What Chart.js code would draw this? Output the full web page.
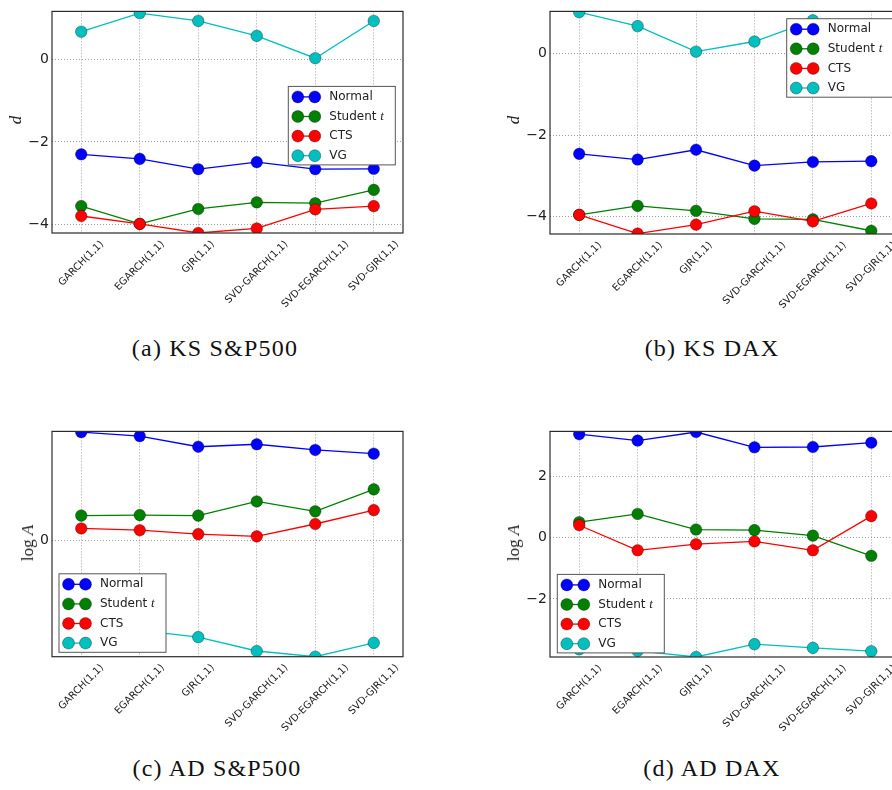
<!DOCTYPE html>
<html>
<head>
<meta charset="utf-8">
<script src="https://cdn.jsdelivr.net/npm/chart.js@4.4.1/dist/chart.umd.min.js"></script>
<style>
    html, body { margin: 0; padding: 0; background: #fff; }
    #page { position: relative; width: 892px; height: 790px; overflow: hidden; }
    #page canvas { position: absolute; }
    .caption {
        position: absolute; width: 300px; text-align: center;
        font-family: 'Liberation Serif', serif; font-size: 24px; line-height: 24px;
        letter-spacing: 1.2px; color: #111; white-space: nowrap;
    }
    .ylab {
        position: absolute; font-family: 'Liberation Serif', serif; font-size: 17px;
        color: #222; white-space: nowrap; transform: translate(-50%, -50%) rotate(-90deg);
    }
</style>
</head>
<body>
<div id="page">
    <canvas id="ksSp" width="420" height="320" style="left:0;top:0"></canvas>
    <canvas id="ksDax" width="430" height="320" style="left:490px;top:0"></canvas>
    <canvas id="adSp" width="420" height="320" style="left:0;top:420px"></canvas>
    <canvas id="adDax" width="430" height="320" style="left:490px;top:420px"></canvas>

    <div class="ylab" style="left:16px;top:120px"><i>d</i></div>
    <div class="ylab" style="left:514px;top:120px"><i>d</i></div>
    <div class="ylab" style="left:28px;top:543px">log <i>A</i></div>
    <div class="ylab" style="left:514px;top:543px">log <i>A</i></div>

    <div class="caption" style="left:65px;top:336px">(a) KS S&amp;P500</div>
    <div class="caption" style="left:562px;top:336px">(b) KS DAX</div>
    <div class="caption" style="left:67px;top:756px">(c) AD S&amp;P500</div>
    <div class="caption" style="left:562px;top:756px">(d) AD DAX</div>
</div>

<script>
const models = ['GARCH(1,1)', 'EGARCH(1,1)', 'GJR(1,1)', 'SVD-GARCH(1,1)', 'SVD-EGARCH(1,1)', 'SVD-GJR(1,1)'];
const seriesNames = ['Normal', 'Student t', 'CTS', 'VG'];

// (a) KS S&P500
const ksSpNormal = [-2.30, -2.41, -2.66, -2.49, -2.66, -2.65];
const ksSpStudent = [-3.55, -3.98, -3.62, -3.46, -3.48, -3.16];
const ksSpCts = [-3.79, -3.98, -4.20, -4.09, -3.63, -3.55];
const ksSpVg = [0.66, 1.11, 0.92, 0.56, 0.02, 0.92];
const ksSpRange = [-4.2, 1.15];
const ksSpTicks = [-4, -2, 0];

// (b) KS DAX
const ksDaxNormal = [-2.46, -2.60, -2.36, -2.75, -2.66, -2.64];
const ksDaxStudent = [-3.96, -3.74, -3.86, -4.06, -4.07, -4.35];
const ksDaxCts = [-3.96, -4.42, -4.20, -3.87, -4.12, -3.68];
const ksDaxVg = [1.02, 0.68, 0.05, 0.30, 0.82, 0.60];
const ksDaxRange = [-4.43, 1.04];
const ksDaxTicks = [-4, -2, 0];

// (c) AD S&P500
const adSpNormal = [4.37, 4.21, 3.78, 3.88, 3.65, 3.50];
const adSpStudent = [1.00, 1.02, 1.00, 1.57, 1.17, 2.06];
const adSpCts = [0.48, 0.41, 0.25, 0.16, 0.66, 1.22];
const adSpVg = [-3.40, -3.64, -3.91, -4.47, -4.70, -4.14];
const adSpRange = [-4.7, 4.4];
const adSpTicks = [0];

// (d) AD DAX
const adDaxNormal = [3.39, 3.18, 3.46, 2.96, 2.97, 3.11];
const adDaxStudent = [0.51, 0.78, 0.27, 0.25, 0.07, -0.59];
const adDaxCts = [0.41, -0.41, -0.21, -0.12, -0.41, 0.71];
const adDaxVg = [-3.65, -3.70, -3.90, -3.48, -3.60, -3.71];
const adDaxRange = [-3.90, 3.48];
const adDaxTicks = [-2, 0, 2];

const seriesColors = ['#0000ff', '#008000', '#ff0000', '#00bfbf'];
const gridColor = '#a0a0a0';

// axes frame on all four sides (matplotlib style box)
const framePlugin = {
    id: 'frame',
    afterDatasetsDraw(chart) {
        const { ctx, chartArea: a } = chart;
        ctx.save();
        ctx.strokeStyle = '#2b2b2b';
        ctx.lineWidth = 1.2;
        ctx.strokeRect(a.left, a.top, a.right - a.left, a.bottom - a.top);
        ctx.restore();
    }
};

// x labels rotated 45deg and centred on the tick, like matplotlib
const rotatedLabels = {
    id: 'rotatedLabels',
    afterDraw(chart) {
        const { ctx, chartArea } = chart;
        const xs = chart.scales.x;
        ctx.save();
        ctx.font = '10px "DejaVu Sans"';
        ctx.fillStyle = '#222';
        ctx.textAlign = 'center';
        ctx.textBaseline = 'middle';
        chart.data.labels.forEach((label, i) => {
            const w = ctx.measureText(label).width;
            const boxH = (w + 10) * Math.SQRT1_2;
            const cx = xs.getPixelForTick(i);
            const cy = chartArea.bottom + 6 + boxH / 2;
            ctx.save();
            ctx.translate(cx, cy);
            ctx.rotate(-Math.PI / 4);
            ctx.fillText(label, 0, 0);
            ctx.restore();
        });
        ctx.restore();
    }
};

// legend box inside the axes
const boxLegend = {
    id: 'boxLegend',
    afterDraw(chart, args, opts) {
        const { ctx, chartArea } = chart;
        const left = chartArea.left + opts.dx;
        const top = chartArea.top + opts.dy;
        ctx.save();
        ctx.fillStyle = '#fff';
        ctx.strokeStyle = '#555';
        ctx.lineWidth = 1;
        ctx.fillRect(left, top, 107, 78.5);
        ctx.strokeRect(left, top, 107, 78.5);

        chart.data.datasets.forEach((ds, i) => {
            const y = top + 10.5 + 19.6 * i;
            ctx.strokeStyle = ds.borderColor;
            ctx.lineWidth = 1.3;
            ctx.beginPath();
            ctx.moveTo(left + 9.5, y);
            ctx.lineTo(left + 26.5, y);
            ctx.stroke();
            [9.5, 26.5].forEach(mx => {
                ctx.beginPath();
                ctx.arc(left + mx, y, 6, 0, Math.PI * 2);
                ctx.fillStyle = ds.borderColor;
                ctx.fill();
                ctx.strokeStyle = 'rgba(0,0,0,0.55)';
                ctx.lineWidth = 0.6;
                ctx.stroke();
            });
            ctx.fillStyle = '#222';
            ctx.textBaseline = 'middle';
            ctx.textAlign = 'left';
            if (ds.label === 'Student t') {
                ctx.font = '12px "DejaVu Sans"';
                ctx.fillText('Student ', left + 41, y);
                const w = ctx.measureText('Student ').width;
                ctx.font = 'italic 13px "Liberation Serif"';
                ctx.fillText('t', left + 41 + w, y);
            } else {
                ctx.font = '12px "DejaVu Sans"';
                ctx.fillText(ds.label, left + 41, y);
            }
        });
        ctx.restore();
    }
};

function fmtTick(v) {
    return (v < 0 ? '\u2212' : '') + Math.abs(v);
}

function makePanel(id, series, range, yTicks, layout) {
    const ctx = document.getElementById(id);
    return new Chart(ctx, {
        type: 'line',
        data: {
            labels: models,
            datasets: series.map((values, i) => ({
                label: seriesNames[i],
                data: values,
                order: 3 - i,
                borderColor: seriesColors[i],
                backgroundColor: seriesColors[i],
                pointBackgroundColor: seriesColors[i],
                pointBorderColor: 'rgba(0,0,0,0.55)',
                pointBorderWidth: 0.6,
                pointRadius: 5.8,
                borderWidth: 1.3,
                tension: 0,
                clip: 0
            }))
        },
        options: {
            responsive: false,
            animation: false,
            events: [],
            layout: { padding: { top: layout.top, right: layout.right, left: 0, bottom: 0 } },
            plugins: {
                legend: { display: false },
                tooltip: { enabled: false },
                boxLegend: { dx: layout.legendX, dy: layout.legendY }
            },
            scales: {
                x: {
                    offset: true,
                    afterFit: s => { s.height = layout.xHeight; },
                    ticks: { display: false },
                    grid: { color: gridColor, lineWidth: 1, drawTicks: false, offset: false },
                    border: { display: false, dash: [1, 2] }
                },
                y: {
                    min: range[0],
                    max: range[1],
                    bounds: 'data',
                    afterFit: s => { s.width = layout.yWidth; },
                    afterBuildTicks: s => { s.ticks = yTicks.map(v => ({ value: v })); },
                    ticks: {
                        font: { family: 'DejaVu Sans', size: 14 },
                        color: '#222',
                        padding: 3,
                        callback: v => fmtTick(v)
                    },
                    grid: { color: gridColor, lineWidth: 1, drawTicks: false },
                    border: { display: false, dash: [1, 2] }
                }
            }
        },
        plugins: [framePlugin, rotatedLabels, boxLegend]
    });
}

makePanel('ksSp', [ksSpNormal, ksSpStudent, ksSpCts, ksSpVg], ksSpRange, ksSpTicks,
    { top: 5, right: 17, yWidth: 52, xHeight: 87, legendX: 236.3, legendY: 75 });
makePanel('ksDax', [ksDaxNormal, ksDaxStudent, ksDaxCts, ksDaxVg], ksDaxRange, ksDaxTicks,
    { top: 6, right: 19.5, yWidth: 60, xHeight: 86, legendX: 236.7, legendY: 7.3 });
makePanel('adSp', [adSpNormal, adSpStudent, adSpCts, adSpVg], adSpRange, adSpTicks,
    { top: 9.3, right: 17, yWidth: 52, xHeight: 83.3, legendX: 7, legendY: 142.4 });
makePanel('adDax', [adDaxNormal, adDaxStudent, adDaxCts, adDaxVg], adDaxRange, adDaxTicks,
    { top: 9.3, right: 19.5, yWidth: 60, xHeight: 83, legendX: 7.3, legendY: 143 });
</script>
</body>
</html>
